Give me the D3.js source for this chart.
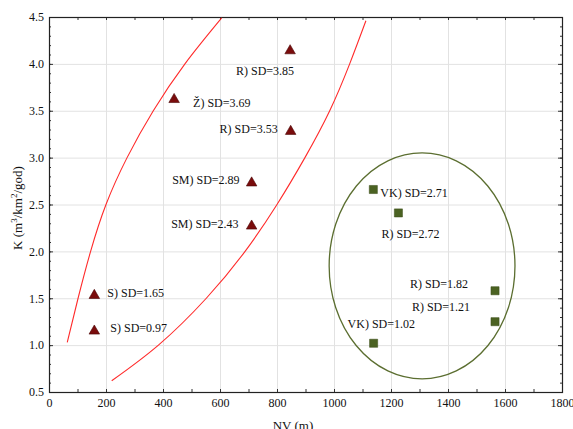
<!DOCTYPE html>
<html>
<head>
<meta charset="utf-8">
<script src="https://cdn.jsdelivr.net/npm/d3@7"></script>
<style>
  html, body { margin: 0; padding: 0; background: #fff; }
  #chart svg text { font-family: 'Times New Roman', Times, 'Liberation Serif', 'DejaVu Serif', serif !important; }
</style>
</head>
<body>
<div id="chart"></div>
<script>
// ---- data ----
const triNV     = [846, 439, 848, 711, 711, 159, 159];
const triK      = [4.14, 3.62, 3.28, 2.73, 2.27, 1.53, 1.15];
const triLabels = ['R) SD=3.85', 'Ž) SD=3.69', 'R) SD=3.53', 'SM) SD=2.89', 'SM) SD=2.43', 'S) SD=1.65', 'S) SD=0.97'];

const sqNV      = [1138, 1226, 1565, 1565, 1139];
const sqK       = [2.66, 2.41, 1.58, 1.25, 1.02];
const sqLabels  = ['VK) SD=2.71', 'R) SD=2.72', 'R) SD=1.82', 'R) SD=1.21', 'VK) SD=1.02'];

// red envelope curves
const leftCurveNV  = [64, 102, 146, 200, 274, 366, 477, 606];
const leftCurveK   = [1.03, 1.5, 2.0, 2.5, 3.0, 3.5, 4.0, 4.49];
const rightCurveNV = [220, 384, 552, 688, 800, 898, 985, 1055, 1112];
const rightCurveK  = [0.62, 1.0, 1.5, 2.0, 2.5, 3.0, 3.5, 4.0, 4.46];

// ellipse round the square group: centre NV, centre K, radius NV, radius K
const ellipseNV = [1309, 326];
const ellipseK  = [1.845, 1.205];

const xTicks = [0, 200, 400, 600, 800, 1000, 1200, 1400, 1600, 1800];
const yTicks = [0.5, 1.0, 1.5, 2.0, 2.5, 3.0, 3.5, 4.0, 4.5];

// label placement (dx, dy, anchor) relative to the marker
const triLabelPos = [[4, 24, 'end'], [19, 7, 'start'], [-13, 2, 'end'], [-12, 1, 'end'], [-13, 2, 'end'], [13, 2, 'start'], [16, 1, 'start']];
const sqLabelPos  = [[7, 7, 'start'], [-17, 25, 'start'], [-27, -3, 'end'], [-25, -11, 'end'], [-26, -15, 'start']];

// ---- layout ----
const W = 573, H = 429;
const plot = { left: 49, right: 562, top: 17, bottom: 392 };

const svg = d3.select('#chart').append('svg')
  .attr('width', W).attr('height', H);

const x = d3.scaleLinear().domain([0, 1800]).range([plot.left, plot.right]);
const y = d3.scaleLinear().domain([0.5, 4.5]).range([plot.bottom, plot.top]);

// grid
const grid = svg.append('g').attr('stroke', '#e2e2e2').attr('stroke-width', 1);
grid.selectAll('.gx').data(xTicks.slice(1, -1)).enter().append('line')
  .attr('x1', d => x(d) + 0.5).attr('x2', d => x(d) + 0.5)
  .attr('y1', plot.top).attr('y2', plot.bottom);
grid.selectAll('.gy').data(yTicks.slice(1, -1)).enter().append('line')
  .attr('y1', d => y(d) + 0.5).attr('y2', d => y(d) + 0.5)
  .attr('x1', plot.left).attr('x2', plot.right);

// axes: labelled bottom/left, plus minor ticks all round (pointing in)
const xMinor = x.ticks(18), yMinor = y.ticks(40);

function tickAxis(axis, g) {
  g.call(axis);
  g.attr('font-family', null).attr('font-size', 12);
  g.select('.domain').remove();
  g.selectAll('line').attr('stroke', '#333');
  g.selectAll('text').attr('fill', '#111');
}

tickAxis(d3.axisBottom(x).tickValues(xTicks).tickSize(-3).tickPadding(6).tickFormat(d3.format('d')),
  svg.append('g').attr('transform', `translate(0,${plot.bottom})`));
tickAxis(d3.axisBottom(x).tickValues(xMinor).tickSize(-3).tickFormat(''),
  svg.append('g').attr('transform', `translate(0,${plot.bottom})`));
tickAxis(d3.axisTop(x).tickValues(xMinor).tickSize(-3).tickFormat(''),
  svg.append('g').attr('transform', `translate(0,${plot.top})`));

tickAxis(d3.axisLeft(y).tickValues(yTicks).tickSize(-4).tickPadding(5).tickFormat(d3.format('.1f')),
  svg.append('g').attr('transform', `translate(${plot.left},0)`));
tickAxis(d3.axisLeft(y).tickValues(yMinor).tickSize(-2).tickFormat(''),
  svg.append('g').attr('transform', `translate(${plot.left},0)`));
tickAxis(d3.axisRight(y).tickValues(yTicks).tickSize(-4).tickFormat(''),
  svg.append('g').attr('transform', `translate(${plot.right},0)`));
tickAxis(d3.axisRight(y).tickValues(yMinor).tickSize(-2).tickFormat(''),
  svg.append('g').attr('transform', `translate(${plot.right},0)`));

// frame
svg.append('rect')
  .attr('x', plot.left + 0.5).attr('y', plot.top + 0.5)
  .attr('width', plot.right - plot.left).attr('height', plot.bottom - plot.top)
  .attr('fill', 'none').attr('stroke', '#222').attr('stroke-width', 1.2);

// axis titles
svg.append('text')
  .attr('x', 293).attr('y', 430)
  .attr('text-anchor', 'middle')
  .attr('font-size', 13)
  .attr('fill', '#111')
  .text('NV (m)');

const yTitle = svg.append('text')
  .attr('transform', 'translate(22,208) rotate(-90)')
  .attr('text-anchor', 'middle')
  .attr('font-size', 13)
  .attr('fill', '#111');
yTitle.append('tspan').text('K (m');
yTitle.append('tspan').attr('dy', -5).attr('font-size', 9).text('3');
yTitle.append('tspan').attr('dy', 5).text('/km');
yTitle.append('tspan').attr('dy', -5).attr('font-size', 9).text('2');
yTitle.append('tspan').attr('dy', 5).text('/god)');

// red curves
const line = d3.line().x(d => x(d[0])).y(d => y(d[1])).curve(d3.curveNatural);
[[leftCurveNV, leftCurveK], [rightCurveNV, rightCurveK]].forEach(([nv, k]) => {
  svg.append('path')
    .datum(d3.zip(nv, k))
    .attr('d', line)
    .attr('fill', 'none')
    .attr('stroke', '#ff2a2a')
    .attr('stroke-width', 1.1);
});

// ellipse
svg.append('ellipse')
  .attr('cx', x(ellipseNV[0]))
  .attr('cy', y(ellipseK[0]))
  .attr('rx', x(ellipseNV[0] + ellipseNV[1]) - x(ellipseNV[0]))
  .attr('ry', y(ellipseK[0]) - y(ellipseK[0] + ellipseK[1]))
  .attr('fill', 'none')
  .attr('stroke', '#5b6e30')
  .attr('stroke-width', 1.3);

// triangles
const tri = d3.zip(triNV, triK, triLabels, triLabelPos);
svg.selectAll('.tri').data(tri).enter().append('path')
  .attr('transform', d => `translate(${x(d[0])},${y(d[1])})`)
  .attr('d', d3.symbol(d3.symbolTriangle, 48))
  .attr('fill', '#7a0c0c')
  .attr('stroke', '#4a0505')
  .attr('stroke-width', 0.6);
svg.selectAll('.trilab').data(tri).enter().append('text')
  .attr('x', d => x(d[0]) + d[3][0])
  .attr('y', d => y(d[1]) + d[3][1])
  .attr('text-anchor', d => d[3][2])
  .attr('font-size', 12)
  .attr('fill', '#111')
  .text(d => d[2]);

// squares
const sq = d3.zip(sqNV, sqK, sqLabels, sqLabelPos);
svg.selectAll('.sq').data(sq).enter().append('path')
  .attr('transform', d => `translate(${x(d[0])},${y(d[1])})`)
  .attr('d', d3.symbol(d3.symbolSquare, 66))
  .attr('fill', '#4b6222')
  .attr('stroke', '#3a4d18')
  .attr('stroke-width', 0.5);
svg.selectAll('.sqlab').data(sq).enter().append('text')
  .attr('x', d => x(d[0]) + d[3][0])
  .attr('y', d => y(d[1]) + d[3][1])
  .attr('text-anchor', d => d[3][2])
  .attr('font-size', 12)
  .attr('fill', '#111')
  .text(d => d[2]);
</script>
</body>
</html>
